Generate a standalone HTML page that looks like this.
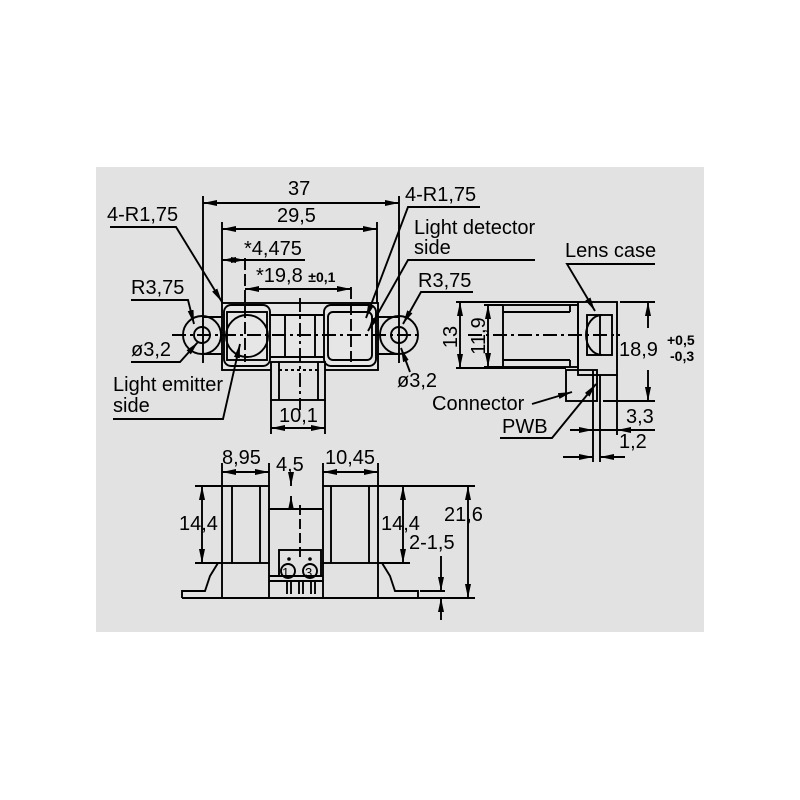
<!DOCTYPE html>
<html><head><meta charset="utf-8"><style>
html,body{margin:0;padding:0;background:#fff;}
svg{display:block;}
text{font-family:"Liberation Sans",sans-serif;font-size:20px;fill:#000;}
.s{font-size:14px;font-weight:bold;}
</style></head><body>
<svg width="800" height="800" viewBox="0 0 800 800" xmlns="http://www.w3.org/2000/svg">
<defs>
<marker id="a" viewBox="0 0 14 6" refX="14" refY="3" markerWidth="14" markerHeight="6" markerUnits="userSpaceOnUse" orient="auto-start-reverse"><path d="M0,0 L14,3 L0,6 Z" fill="#000"/></marker>
</defs>
<rect x="96" y="167" width="608" height="465" fill="#e2e2e2"/>
<g stroke="#000" stroke-width="1.9" fill="none">
<circle cx="202" cy="335" r="19"/><circle cx="202" cy="335" r="8"/>
<circle cx="399" cy="335" r="19"/><circle cx="399" cy="335" r="8"/>
<line x1="202" y1="317" x2="222" y2="317"/><line x1="202" y1="354" x2="222" y2="354"/>
<line x1="378" y1="317" x2="399" y2="317"/><line x1="378" y1="354" x2="399" y2="354"/>
<rect x="222" y="303" width="156" height="67" fill="#e6e6e6"/>
<rect x="224" y="305" width="46" height="61" rx="7"/>
<rect x="227" y="312" width="40" height="48"/>
<circle cx="247" cy="336" r="21"/>
<rect x="324" y="305" width="52" height="61" rx="7"/>
<rect x="328" y="312" width="44" height="48" rx="5"/>
<line x1="270" y1="315" x2="324" y2="315"/><line x1="270" y1="357" x2="324" y2="357"/>
<line x1="285" y1="315" x2="285" y2="357"/><line x1="315" y1="315" x2="315" y2="357"/>
<rect x="271" y="362" width="54" height="38" fill="#e2e2e2"/>
<line x1="279" y1="362" x2="279" y2="400"/><line x1="318" y1="362" x2="318" y2="400"/>
<path d="M279,370 L318,370" stroke-dasharray="3,3"/>
<line x1="172" y1="335" x2="420" y2="335" stroke-dasharray="14,4,3,4"/>
<line x1="300" y1="298" x2="300" y2="410" stroke-dasharray="14,4,3,4"/>
<line x1="245" y1="258" x2="245" y2="362" stroke-dasharray="12,4"/>
<line x1="351" y1="287" x2="351" y2="362" stroke-dasharray="12,4"/>
<line x1="203" y1="196" x2="203" y2="363"/><line x1="399" y1="196" x2="399" y2="363"/>
<line x1="222" y1="222" x2="222" y2="303"/><line x1="377" y1="222" x2="377" y2="303"/>
<line x1="271" y1="400" x2="271" y2="434"/><line x1="325" y1="400" x2="325" y2="434"/>
<line x1="203" y1="203" x2="399" y2="203" marker-start="url(#a)" marker-end="url(#a)"/>
<line x1="222" y1="229" x2="377" y2="229" marker-start="url(#a)" marker-end="url(#a)"/>
<line x1="222" y1="260" x2="245" y2="260" marker-start="url(#a)" marker-end="url(#a)"/>
<line x1="245" y1="260" x2="305" y2="260"/>
<line x1="245" y1="289" x2="351" y2="289" marker-start="url(#a)" marker-end="url(#a)"/>
<line x1="271" y1="428" x2="325" y2="428" marker-start="url(#a)" marker-end="url(#a)"/>
<polyline points="110,227 176,227 222,302" marker-end="url(#a)"/>
<polyline points="131,300 188,300 194,324" marker-end="url(#a)"/>
<polyline points="131,362 180,362 198,342" marker-end="url(#a)"/>
<polyline points="113,419 223,419 240,344" marker-end="url(#a)"/>
<polyline points="480,207 408,207 366,318" marker-end="url(#a)"/>
<polyline points="535,260 408,260 368,331" marker-end="url(#a)"/>
<polyline points="473,292 421,292 403,324" marker-end="url(#a)"/>
<line x1="410" y1="372" x2="401" y2="348" marker-end="url(#a)"/>
<rect x="503" y="305" width="75" height="62"/>
<line x1="503" y1="312" x2="570" y2="312"/><line x1="503" y1="360" x2="570" y2="360"/>
<line x1="570" y1="305" x2="570" y2="312"/><line x1="570" y1="360" x2="570" y2="367"/>
<rect x="578" y="302" width="39" height="73"/>
<rect x="587" y="315" width="25" height="40"/>
<path d="M602,315 A16,20 0 0 0 602,355"/>
<line x1="600" y1="315" x2="600" y2="355"/>
<rect x="566" y="370" width="31" height="31"/>
<line x1="593" y1="370" x2="593" y2="462"/><line x1="600" y1="375" x2="600" y2="462"/>
<line x1="617" y1="375" x2="617" y2="435"/>
<line x1="468" y1="335" x2="620" y2="335" stroke-dasharray="14,4,3,4"/>
<line x1="456" y1="302" x2="578" y2="302"/><line x1="456" y1="368" x2="566" y2="368"/>
<line x1="484" y1="305" x2="503" y2="305"/><line x1="484" y1="367" x2="503" y2="367"/>
<line x1="460" y1="302" x2="460" y2="368" marker-start="url(#a)" marker-end="url(#a)"/>
<line x1="488" y1="305" x2="488" y2="367" marker-start="url(#a)" marker-end="url(#a)"/>
<line x1="620" y1="302" x2="655" y2="302"/><line x1="603" y1="401" x2="655" y2="401"/>
<line x1="648" y1="328" x2="648" y2="302" marker-end="url(#a)"/>
<line x1="648" y1="370" x2="648" y2="401" marker-end="url(#a)"/>
<line x1="570" y1="430" x2="593" y2="430" marker-end="url(#a)"/>
<line x1="655" y1="430" x2="617" y2="430" marker-end="url(#a)"/>
<line x1="617" y1="430" x2="593" y2="430"/>
<line x1="563" y1="457" x2="593" y2="457" marker-end="url(#a)"/>
<line x1="625" y1="457" x2="600" y2="457" marker-end="url(#a)"/>
<polyline points="655,264 567,264 595,311" marker-end="url(#a)"/>
<line x1="532" y1="404" x2="572" y2="392" marker-end="url(#a)"/>
<polyline points="500,438 552,438 596,384" marker-end="url(#a)"/>
<rect x="222" y="486" width="47" height="77"/>
<line x1="232" y1="486" x2="232" y2="563"/><line x1="260" y1="486" x2="260" y2="563"/>
<rect x="323" y="486" width="55" height="77"/>
<line x1="331" y1="486" x2="331" y2="563"/><line x1="369" y1="486" x2="369" y2="563"/>
<line x1="269" y1="509" x2="323" y2="509"/>
<polyline points="182,598 182,591 205,591 210,576 218,563 222,563"/>
<polyline points="418,598 418,591 395,591 390,576 382,563 378,563"/>
<line x1="182" y1="598" x2="418" y2="598"/>
<line x1="222" y1="563" x2="222" y2="598"/><line x1="269" y1="563" x2="269" y2="598"/>
<line x1="323" y1="563" x2="323" y2="598"/><line x1="378" y1="563" x2="378" y2="598"/>
<rect x="279" y="550" width="42" height="26"/>
<line x1="269" y1="576" x2="323" y2="576"/><line x1="269" y1="581" x2="323" y2="581"/>
<circle cx="288" cy="571" r="7"/><circle cx="310" cy="571" r="7"/>
<line x1="287" y1="581" x2="287" y2="594"/><line x1="291" y1="581" x2="291" y2="594"/>
<line x1="299" y1="581" x2="299" y2="594"/><line x1="303" y1="581" x2="303" y2="594"/>
<line x1="311" y1="581" x2="311" y2="594"/><line x1="315" y1="581" x2="315" y2="594"/>
<line x1="300" y1="505" x2="300" y2="560" stroke-dasharray="10,4"/>
<line x1="222" y1="463" x2="222" y2="486"/><line x1="269" y1="463" x2="269" y2="486"/>
<line x1="323" y1="463" x2="323" y2="486"/><line x1="378" y1="463" x2="378" y2="486"/>
<line x1="222" y1="472" x2="269" y2="472" marker-start="url(#a)" marker-end="url(#a)"/>
<line x1="323" y1="472" x2="378" y2="472" marker-start="url(#a)" marker-end="url(#a)"/>
<line x1="291" y1="474" x2="291" y2="486" marker-end="url(#a)"/>
<line x1="291" y1="496" x2="291" y2="509" marker-start="url(#a)"/>
<line x1="195" y1="486" x2="222" y2="486"/><line x1="195" y1="563" x2="222" y2="563"/>
<line x1="202" y1="486" x2="202" y2="563" marker-start="url(#a)" marker-end="url(#a)"/>
<line x1="378" y1="486" x2="475" y2="486"/><line x1="378" y1="563" x2="410" y2="563"/>
<line x1="403" y1="486" x2="403" y2="563" marker-start="url(#a)" marker-end="url(#a)"/>
<line x1="468" y1="486" x2="468" y2="598" marker-start="url(#a)" marker-end="url(#a)"/>
<line x1="418" y1="598" x2="475" y2="598"/><line x1="420" y1="591" x2="445" y2="591"/>
<line x1="441" y1="556" x2="441" y2="591" marker-end="url(#a)"/>
<line x1="441" y1="620" x2="441" y2="598" marker-end="url(#a)"/>
</g>
<g fill="#000">
<circle cx="289" cy="559" r="1.8"/><circle cx="310" cy="559" r="1.8"/>
</g>
<text x="288" y="195">37</text>
<text x="277" y="222">29,5</text>
<text x="244" y="255">*4,475</text>
<text x="256" y="282">*19,8 <tspan class="s">±0,1</tspan></text>
<text x="107" y="221">4-R1,75</text>
<text x="131" y="294">R3,75</text>
<text x="131" y="356">ø3,2</text>
<text x="113" y="391">Light emitter</text>
<text x="113" y="412">side</text>
<text x="279" y="422">10,1</text>
<text x="405" y="201">4-R1,75</text>
<text x="414" y="234">Light detector</text>
<text x="414" y="254">side</text>
<text x="418" y="287">R3,75</text>
<text x="397" y="387">ø3,2</text>
<text x="565" y="257">Lens case</text>
<text x="619" y="356">18,9</text>
<text class="s" x="667" y="345">+0,5</text>
<text class="s" x="670" y="361">-0,3</text>
<text x="457" y="337" transform="rotate(-90 457 337)" text-anchor="middle">13</text>
<text x="485" y="336" transform="rotate(-90 485 336)" text-anchor="middle">11,9</text>
<text x="432" y="410">Connector</text>
<text x="502" y="433">PWB</text>
<text x="626" y="423">3,3</text>
<text x="619" y="448">1,2</text>
<text x="222" y="464">8,95</text>
<text x="276" y="471">4,5</text>
<text x="325" y="464">10,45</text>
<text x="179" y="530">14,4</text>
<text x="381" y="530">14,4</text>
<text x="444" y="521">21,6</text>
<text x="409" y="549">2-1,5</text>
<text x="282" y="577" style="font-size:13px">1</text>
<text x="305" y="577" style="font-size:13px">3</text>
</svg>
</body></html>
